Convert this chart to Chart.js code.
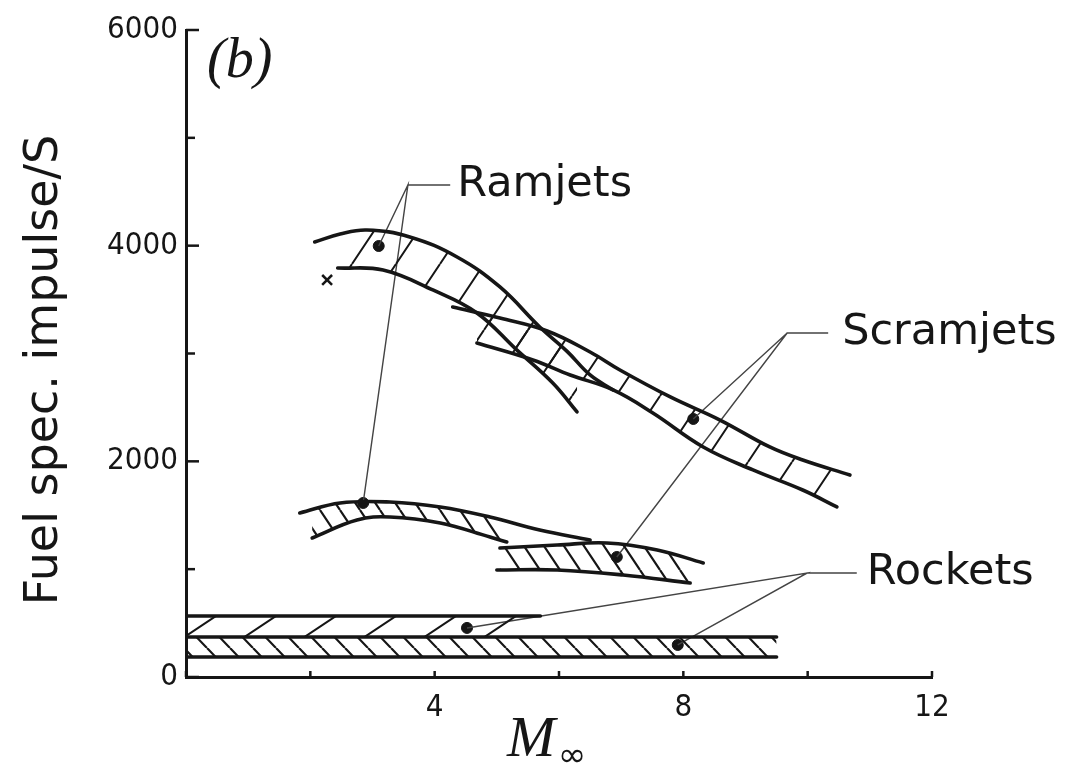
<!DOCTYPE html>
<html>
<head>
<meta charset="utf-8">
<script src="https://cdn.jsdelivr.net/npm/chart.js@4.4.1/dist/chart.umd.min.js"></script>
<style>
  html, body { margin: 0; padding: 0; background: #fff; }
  #wrap { width: 1074px; height: 772px; }
</style>
</head>
<body>
<div id="wrap"><canvas id="chart" width="1074" height="772"></canvas></div>
<script>
// [Mach number, fuel specific impulse in s]
var ramjetH2Upper = [[2.07,4034],[2.48,4108],[2.91,4145],[3.60,4081],[4.36,3895],[5.05,3617],[5.69,3246],[6.13,3020],[6.50,2801],[6.87,2662]];
var ramjetH2Lower = [[2.44,3793],[3.17,3774],[3.97,3589],[4.68,3376],[5.32,3033],[5.90,2726],[6.29,2458]];
var scramH2Upper = [[4.29,3431],[5.05,3329],[5.81,3209],[6.50,3014],[6.98,2847],[7.79,2597],[8.59,2383],[9.39,2133],[9.92,2012],[10.68,1873]];
var scramH2Lower = [[4.68,3097],[5.58,2940],[6.18,2801],[6.87,2662],[7.51,2448],[8.32,2133],[9.12,1920],[9.92,1734],[10.47,1577]];
var ramjetHCUpper = [[1.83,1521],[2.48,1614],[3.28,1623],[4.09,1577],[4.89,1484],[5.69,1363],[6.50,1270]];
var ramjetHCLower = [[2.03,1289],[2.75,1456],[3.28,1484],[4.09,1428],[4.89,1298],[5.16,1252]];
var scramHCUpper = [[5.05,1196],[5.97,1224],[6.77,1243],[7.58,1178],[8.32,1057]];
var scramHCLower = [[5.00,992],[5.97,992],[7.03,946],[8.11,872]];
var rocketTop = [[0,566],[5.7,566]];
var rocketMid = [[0,371],[9.5,371]];
var rocketBottom = [[0,185],[9.5,185]];

// marked design points and the single cross
var designPoints = [[3.10,3997],[2.85,1614],[8.16,2393],[6.93,1113],[4.52,455],[7.91,297]];
var crossPoint = [[2.27,3682]];

// leader lines from each label to its points
var ramjetLeader = [[3.10,3997],[3.57,4563],[2.85,1614],[3.57,4563],[4.25,4563]];
var scramLeader = [[8.16,2393],[9.67,3190],[6.93,1113],[9.67,3190],[10.33,3190]];
var rocketLeader = [[4.52,455],[9.99,964],[7.91,297],[9.99,964],[10.79,964]];

var callouts = [
    { text: 'Ramjets', x: 4.25, y: 4563, gap: 7 },
    { text: 'Scramjets', x: 10.33, y: 3190, gap: 14 },
    { text: 'Rockets', x: 10.79, y: 964, gap: 10 }
];

var xTicks = [0, 2, 4, 6, 8, 10, 12];
var yTicks = [0, 1000, 2000, 3000, 4000, 5000, 6000];

const ink = '#161616';
const labelFont = '"DejaVu Sans Condensed", "DejaVu Sans"';

function pts(a) {
    return a.map(p => ({ x: p[0], y: p[1] }));
}

// slanted hatching used inside the bands, w = spacing, h = rise
function hatch(w, h, dir, lw) {
    const c = document.createElement('canvas');
    c.width = w;
    c.height = h;
    const g = c.getContext('2d');
    g.strokeStyle = ink;
    g.lineWidth = lw;
    g.beginPath();
    for (let k = -1; k <= 1; k++) {
        if (dir === '/') {
            g.moveTo(k * w, h);
            g.lineTo(k * w + w, 0);
        } else {
            g.moveTo(k * w, 0);
            g.lineTo(k * w + w, h);
        }
    }
    g.stroke();
    return g.createPattern(c, 'repeat');
}

const sparse = hatch(44, 66, '/', 2);
const dense = hatch(20, 30, '\\', 2.2);
const rocketSparse = hatch(60, 40, '/', 2);
const rocketDense = hatch(23, 24, '\\', 2.2);

function curve(data, fillWith) {
    return {
        data: pts(data),
        borderColor: ink,
        borderWidth: 3.6,
        pointRadius: 0,
        tension: 0.4,
        borderCapStyle: 'round',
        fill: fillWith ? '+1' : false,
        backgroundColor: fillWith || 'transparent'
    };
}

function leader(data) {
    return {
        data: pts(data),
        borderColor: '#444',
        borderWidth: 1.4,
        pointRadius: 0,
        tension: 0,
        fill: false
    };
}

const overlay = {
    id: 'overlay',
    afterDraw(chart) {
        const { ctx, chartArea } = chart;
        const xs = chart.scales.x, ys = chart.scales.y;
        ctx.save();
        ctx.strokeStyle = ink;
        ctx.lineWidth = 2.5;
        yTicks.forEach(v => {
            const py = ys.getPixelForValue(v);
            const len = v % 2000 === 0 ? 13 : 9;
            ctx.beginPath();
            ctx.moveTo(chartArea.left, py);
            ctx.lineTo(chartArea.left + len, py);
            ctx.stroke();
        });
        xTicks.forEach(v => {
            const px = xs.getPixelForValue(v);
            ctx.beginPath();
            ctx.moveTo(px, chartArea.bottom);
            ctx.lineTo(px, chartArea.bottom - 6);
            ctx.stroke();
        });

        ctx.fillStyle = ink;
        ctx.font = '43px "DejaVu Sans"';
        ctx.textBaseline = 'middle';
        ctx.textAlign = 'left';
        callouts.forEach(c => {
            ctx.fillText(c.text, xs.getPixelForValue(c.x) + c.gap, ys.getPixelForValue(c.y));
        });

        // panel letter
        ctx.font = 'italic 56px "Liberation Serif"';
        ctx.fillText('(b)', 207, 62);

        // axis titles
        ctx.font = 'italic 58px "Liberation Serif"';
        ctx.textBaseline = 'alphabetic';
        ctx.fillText('M', 507, 756);
        ctx.font = '34px "DejaVu Sans"';
        ctx.fillText('\u221e', 558, 766);

        ctx.translate(45, 370);
        ctx.rotate(-Math.PI / 2);
        ctx.textAlign = 'center';
        ctx.textBaseline = 'middle';
        ctx.font = '46px "DejaVu Sans"';
        ctx.fillText('Fuel spec. impulse/S', 0, 0);
        ctx.restore();
    }
};

const chart = new Chart(document.getElementById('chart'), {
    type: 'line',
    data: {
        datasets: [
            curve(ramjetH2Upper, sparse),
            curve(ramjetH2Lower),
            curve(scramH2Upper, sparse),
            curve(scramH2Lower),
            curve(ramjetHCUpper, dense),
            curve(ramjetHCLower),
            curve(scramHCUpper, dense),
            curve(scramHCLower),
            curve(rocketTop, rocketSparse),
            curve(rocketMid, rocketDense),
            curve(rocketBottom),
            leader(ramjetLeader),
            leader(scramLeader),
            leader(rocketLeader),
            {
                data: pts(designPoints),
                showLine: false,
                pointRadius: 5.5,
                pointBackgroundColor: ink,
                pointBorderColor: ink,
                fill: false
            },
            {
                data: pts(crossPoint),
                showLine: false,
                pointStyle: 'crossRot',
                pointRadius: 7,
                pointBorderWidth: 2.5,
                pointBorderColor: ink,
                fill: false
            }
        ]
    },
    options: {
        responsive: false,
        animation: false,
        devicePixelRatio: 1,
        events: [],
        layout: { padding: { top: 30, right: 142, bottom: 0, left: 0 } },
        plugins: {
            legend: { display: false },
            tooltip: { enabled: false }
        },
        scales: {
            x: {
                type: 'linear',
                min: 0,
                max: 12,
                grid: { display: false, drawTicks: false },
                border: { display: true, color: ink, width: 3 },
                ticks: {
                    stepSize: 2,
                    padding: 12,
                    color: ink,
                    font: { family: labelFont, size: 31 },
                    callback: v => (v % 4 === 0 && v !== 0) ? v : ''
                },
                afterFit: s => { s.height = 95; }
            },
            y: {
                min: 0,
                max: 6000,
                grid: { display: false, drawTicks: false },
                border: { display: true, color: ink, width: 3 },
                ticks: {
                    stepSize: 1000,
                    padding: 8,
                    color: ink,
                    font: { family: labelFont, size: 31 },
                    callback: v => v % 2000 === 0 ? v : ''
                },
                afterFit: s => { s.width = 186; }
            }
        }
    },
    plugins: [overlay]
});
</script>
</body>
</html>
